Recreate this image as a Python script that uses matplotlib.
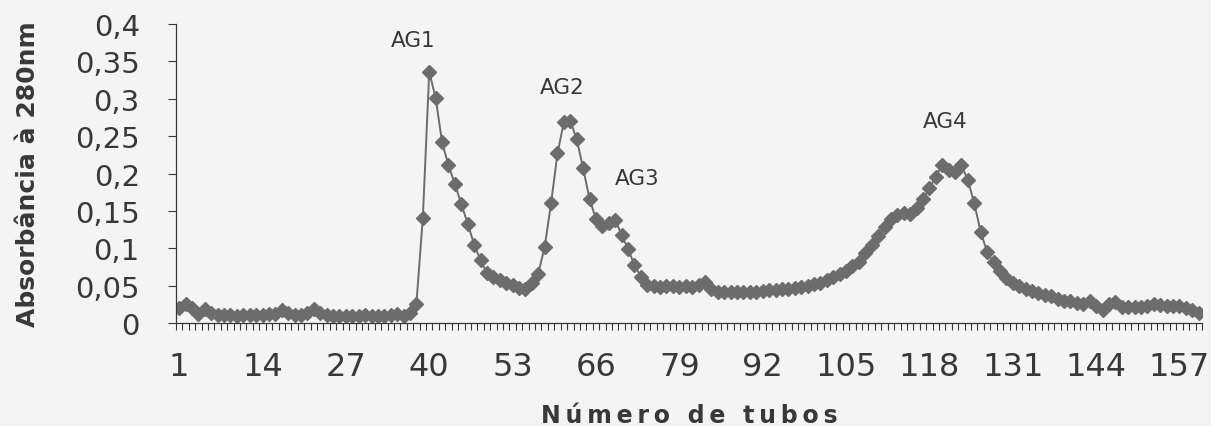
import matplotlib
matplotlib.use("Agg")
import matplotlib.pyplot as plt
import numpy as np

# absorbance at 280 nm for each tube
tubes = list(range(1, 161))
absorbance = [
    0.020, 0.025, 0.020, 0.012, 0.019, 0.014, 0.011, 0.011, 0.011, 0.010,
    0.011, 0.011, 0.011, 0.011, 0.012, 0.012, 0.017, 0.013, 0.011, 0.011,
    0.013, 0.019, 0.014, 0.011, 0.010, 0.009, 0.009, 0.010, 0.010, 0.011,
    0.010, 0.009, 0.010, 0.011, 0.012, 0.010, 0.014, 0.026, 0.141, 0.336,
    0.301, 0.242, 0.211, 0.186, 0.159, 0.133, 0.105, 0.084, 0.067, 0.061,
    0.057, 0.054, 0.051, 0.047, 0.046, 0.054, 0.066, 0.102, 0.160, 0.227,
    0.269, 0.270, 0.246, 0.207, 0.166, 0.139, 0.130, 0.134, 0.138, 0.118,
    0.099, 0.078, 0.062, 0.051, 0.049, 0.048, 0.049, 0.049, 0.048, 0.049,
    0.048, 0.051, 0.055, 0.046, 0.042, 0.041, 0.041, 0.041, 0.042, 0.041,
    0.041, 0.043, 0.044, 0.044, 0.045, 0.046, 0.047, 0.048, 0.050, 0.052,
    0.054, 0.058, 0.062, 0.066, 0.069, 0.076, 0.082, 0.093, 0.104, 0.117,
    0.129, 0.139, 0.145, 0.147, 0.146, 0.154, 0.166, 0.180, 0.196, 0.212,
    0.205, 0.202, 0.211, 0.191, 0.160, 0.122, 0.095, 0.081, 0.070, 0.060,
    0.053, 0.049, 0.046, 0.043, 0.040, 0.038, 0.036, 0.032, 0.030, 0.029,
    0.027, 0.026, 0.030, 0.023, 0.017, 0.025, 0.028, 0.022, 0.022, 0.022,
    0.022, 0.023, 0.025, 0.024, 0.023, 0.023, 0.023, 0.020, 0.018, 0.014,
]

# labelled tubes on the x axis and y tick values
x_ticks = list(range(1, 158, 13))
y_ticks = [0, 0.05, 0.1, 0.15, 0.2, 0.25, 0.3, 0.35, 0.4]
y_tick_labels = ["0", "0,05", "0,1", "0,15", "0,2", "0,25", "0,3", "0,35", "0,4"]

# peak names and where they sit
peak_names = ["AG1", "AG2", "AG3", "AG4"]
peak_x = [37.5, 60.7, 72.4, 120.5]
peak_y = [0.379, 0.316, 0.194, 0.270]

bg = "#f4f4f4"
ink = "#383838"
mark = "#6c6c6c"

fig = plt.figure(figsize=(12.11, 4.27), dpi=100, facecolor=bg)
ax = fig.add_axes([0.1453, 0.2412, 0.8472, 0.7002], facecolor=bg)

ax.plot(tubes, absorbance, color=mark, linewidth=1.4, marker="D",
        markersize=6.8, markerfacecolor=mark, markeredgecolor=mark)

ax.set_xlim(0.5, 160.5)
ax.set_ylim(0, 0.4)

ax.set_xticks(x_ticks)
ax.set_xticklabels([str(t) for t in x_ticks])
ax.set_xticks(np.arange(0.5, 161, 1), minor=True)
ax.tick_params(axis="x", which="major", length=0, pad=20, labelsize=23, labelcolor=ink)
ax.tick_params(axis="x", which="minor", length=5, width=0.8, color=ink, direction="out")

ax.set_yticks(y_ticks)
ax.set_yticklabels(y_tick_labels)
ax.tick_params(axis="y", which="major", length=6, width=0.8, color=ink, pad=20,
               labelsize=21, labelcolor=ink)

for side in ["top", "right"]:
    ax.spines[side].set_visible(False)
for side in ["left", "bottom"]:
    ax.spines[side].set_color(ink)
    ax.spines[side].set_linewidth(0.9)

for name, px, py in zip(peak_names, peak_x, peak_y):
    ax.text(px, py, name, ha="center", va="center", fontsize=15.5, color=ink)

thin = "\u2009"
ax.set_xlabel(thin.join("Número de tubos"), fontsize=17, fontweight="bold",
              color=ink, labelpad=15)
ax.set_ylabel("Absorbância à 280nm", fontsize=18, fontweight="bold", color=ink,
              labelpad=25)

fig.savefig("out.png", dpi=100, facecolor=bg)
